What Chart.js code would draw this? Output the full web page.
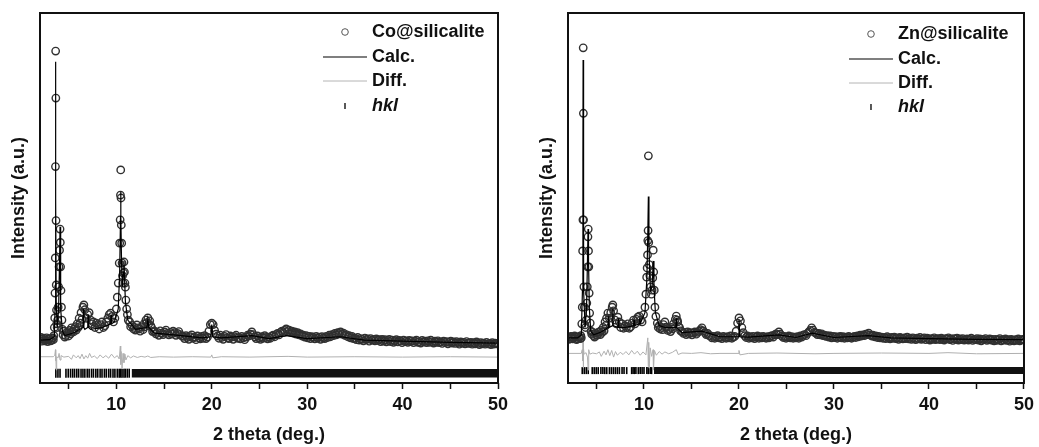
<!DOCTYPE html>
<html>
<head>
<meta charset="utf-8">
<script src="https://cdn.jsdelivr.net/npm/chart.js@4.4.1/dist/chart.umd.min.js"></script>
<style>
  body { margin: 0; background: #fff; }
  canvas { position: absolute; top: 0; }
  #coChart { left: 0; }
  #znChart { left: 520px; }
</style>
</head>
<body>
<canvas id="coChart" width="520" height="447"></canvas>
<canvas id="znChart" width="519" height="447"></canvas>
<script>
// [2theta, intensity] pairs (intensity in arbitrary units, 0..1000 = plot height)
const coObserved = [
  [2.0,118],[2.1,123],[2.2,113],[2.3,119],[2.4,121],[2.5,114],[2.6,116],[2.7,122],[2.8,112],[2.9,118],
  [3.0,120],[3.1,114],[3.2,115],[3.3,121],[3.35,122],[3.4,117],[3.45,128],[3.50,150],
  [3.54,176],[3.57,243],[3.60,338],[3.62,585],[3.64,897],[3.66,770],[3.68,439],[3.70,265],[3.73,197],[3.76,160],
  [3.80,150],[3.85,170],[3.90,205],[3.95,260],[4.00,314],[4.05,359],[4.10,416],[4.13,380],[4.16,314],[4.20,250],
  [4.25,205],[4.30,170],[4.36,145],[4.42,130],[4.5,140],[4.6,124],[4.7,128],[4.8,137],[4.9,135],[5.0,127],[5.1,142],
  [5.2,133],[5.3,149],[5.4,140],[5.5,138],[5.6,146],
  [5.7,152],[5.8,143],[5.9,160],[6.0,150],[6.1,175],[6.2,162],[6.3,190],[6.4,172],[6.5,205],[6.6,211],[6.7,198],[6.85,175],[7.0,185],[7.15,190],
  [7.3,170],[7.45,160],[7.6,165],[7.75,150],[7.9,162],[8.05,158],[8.2,146],[8.35,158],[8.5,165],[8.65,150],
  [8.8,155],[8.95,165],[9.1,175],[9.25,185],[9.4,189],[9.55,180],[9.7,165],[9.85,175],[10.0,200],[10.10,232],
  [10.20,270],[10.30,324],[10.35,378],[10.40,441],[10.43,508],[10.46,576],[10.49,500],[10.52,427],[10.56,378],[10.60,324],
  [10.65,290],[10.70,270],[10.75,297],[10.80,327],[10.85,300],[10.90,270],[10.95,259],[11.00,224],[11.08,200],[11.16,185],
  [11.25,170],[11.4,165],[11.5,152],[11.65,156],[11.8,146],[11.9,150],[12.0,143],[12.15,157],[12.3,149],[12.4,146],[12.5,140],
  [12.65,152],[12.8,144],[12.9,160],[13.0,152],[13.1,170],[13.2,163],[13.3,176],[13.4,160],
  [13.5,168],[13.6,155],[13.7,150],[13.8,139],[13.95,140]
];
// 14..50 deg scanned at 0.15 deg
const coTailStart = 14.0;
const coTailStep = 0.15;
const coTail = [
  140,133,137,129,141,135,131,138,143,134,130,137,132,140,136,129,134,139,131,127,
  126,120,128,123,118,125,130,121,124,117,127,122,119,126,121,128,120,124,140,158,
  162,158,142,132,127,121,129,123,118,126,131,122,120,127,124,118,125,129,121,123,
  119,126,122,117,124,129,127,132,138,131,125,120,127,122,118,125,121,128,123,119,
  124,121,127,129,125,131,134,130,137,140,136,142,146,139,143,137,140,135,138,132,
  136,130,133,127,129,124,128,122,126,120,125,123,119,126,121,124,118,125,122,120,
  126,123,129,125,131,128,134,130,136,133,138,132,135,129,131,125,128,122,126,120,
  121,117,123,116,120,118,114,121,117,119,113,120,116,118,114,119,115,117,112,118,
  113,117,111,115,118,112,116,110,114,117,111,115,113,109,116,112,114,110,115,112,
  114,109,113,116,110,112,108,115,111,113,109,114,110,116,112,108,113,110,114,109,
  111,107,113,109,112,106,110,113,108,111,107,112,109,105,111,108,110,106,112,108,
  107,110,105,109,106,111,107,104,109,106,108,105,110,106,107,104,109,105,108,106,
  107
];
const coCalc = [
  [2.0,116],[3.0,117],[3.5,125],[3.58,200],[3.62,500],[3.64,868],[3.66,500],[3.70,220],[3.80,150],[3.95,200],
  [4.05,330],[4.10,422],[4.13,330],[4.20,200],[4.35,140],[4.6,128],[5.5,135],[6.5,150],[6.55,200],[6.6,150],
  [6.7,145],[7.0,150],[7.05,185],[7.1,150],[7.3,145],[8.0,148],[8.5,150],[9.0,155],[9.4,160],[9.45,185],
  [9.5,160],[9.8,165],[10.2,200],[10.35,300],[10.44,450],[10.46,517],[10.48,450],[10.55,320],[10.65,260],[10.75,300],
  [10.80,330],[10.85,290],[10.95,220],[11.2,170],[12.0,145],[13.2,150],[13.3,172],[13.4,150],[14.0,135],[16.0,130],
  [19.0,122],[19.9,125],[20.0,158],[20.1,125],[21.0,122],[24.2,128],[26.0,120],[27.8,128],[30.0,120],[33.5,125],
  [36.0,116],[40.0,113],[45.0,110],[50.0,108]
];
const coDiff = [
  [2.0,71],[3.4,71],[3.55,75],[3.62,90],[3.64,60],[3.66,78],[3.70,35],[3.75,71],[3.9,68],[4.0,80],
  [4.1,62],[4.2,74],[4.5,70],[5.0,72],[5.3,64],[5.5,76],[5.8,68],[6.0,74],[6.2,66],[6.4,78],
  [6.6,65],[6.8,74],[7.0,67],[7.2,80],[7.4,69],[7.7,73],[8.0,66],[8.3,76],[8.6,68],[8.9,74],
  [9.2,67],[9.5,78],[9.8,68],[10.1,74],[10.3,65],[10.42,100],[10.46,50],[10.5,85],[10.6,40],[10.7,80],
  [10.8,55],[10.9,78],[11.0,62],[11.2,74],[11.5,68],[11.8,73],[12.2,69],[12.6,72],[13.0,70],[13.3,73],
  [13.6,69],[14.5,71],[16.0,70],[18.0,71],[19.9,70],[20.0,76],[20.1,68],[21.0,71],[24.0,70],[28.0,72],
  [30.0,70],[35.0,71],[40.0,70],[45.0,71],[50.0,70]
];
const coHkl = [3.66, 3.88, 4.10, 4.72, 4.96, 5.20, 5.42, 5.62, 5.85, 6.05, 6.30, 6.50, 6.70, 6.95, 7.15,
  7.40, 7.60, 7.85, 8.05, 8.30, 8.50, 8.75, 8.95, 9.20, 9.40, 9.65, 9.85, 10.10, 10.30, 10.45, 10.60,
  10.80, 10.95, 11.15, 11.35];
const coHklBand = [11.6, 50];
const coHklLevel = [15, 38];

const znObserved = [
  [2.0,123],[2.1,118],[2.2,120],[2.3,126],[2.4,125],[2.5,119],[2.6,121],[2.7,127],[2.8,124],[2.9,117],
  [3.0,119],[3.1,125],[3.2,123],[3.3,120],[3.35,128],[3.4,122],[3.45,160],[3.50,205],
  [3.54,357],[3.57,441],[3.60,906],[3.62,729],[3.64,441],[3.67,260],[3.72,205],[3.78,157],[3.85,150],[3.92,170],
  [3.98,216],[4.03,260],[4.07,314],[4.10,395],[4.13,416],[4.16,357],[4.19,314],[4.23,243],[4.28,189],[4.34,162],
  [4.42,140],[4.5,132],[4.6,137],[4.7,128],[4.8,124],[4.9,135],[5.0,129],[5.1,130],[5.2,137],[5.3,138],[5.4,131],[5.5,142],[5.6,137],
  [5.7,150],[5.8,141],[5.9,165],[6.0,156],[6.05,175],
  [6.2,189],[6.35,175],[6.5,190],[6.65,205],[6.72,211],[6.8,195],[6.95,170],[7.1,160],[7.25,178],[7.4,165],
  [7.55,150],[7.7,160],[7.85,148],[8.0,155],[8.15,150],[8.3,160],[8.45,148],[8.6,152],[8.75,162],[8.9,170],
  [9.05,160],[9.2,172],[9.35,178],[9.5,181],[9.65,170],[9.8,165],[9.95,185],[10.1,205],[10.2,240],[10.28,286],
  [10.33,311],[10.37,346],[10.40,385],[10.43,412],[10.46,614],[10.50,380],[10.55,320],[10.62,290],[10.7,260],[10.78,240],
  [10.85,251],[10.92,284],[10.97,359],[11.02,300],[11.08,251],[11.15,205],[11.25,180],[11.4,162],[11.5,150],[11.6,155],[11.7,146],[11.85,150],
  [11.95,144],[12.05,158],[12.2,165],[12.3,151],[12.4,150],[12.5,142],[12.65,145],[12.8,139],[12.9,150],[13.0,146],[13.1,160],[13.3,172],[13.4,181],
  [13.5,170],[13.55,165],[13.65,152],[13.75,150],[13.85,141]
];
const znTailStart = 14.0;
const znTailStep = 0.15;
const znTail = [
  139,134,137,131,138,133,136,130,135,138,132,137,140,144,149,141,136,131,134,128,
  127,122,126,121,125,128,122,124,120,126,123,121,125,122,127,121,124,126,140,162,
  176,168,150,136,128,123,127,121,125,122,126,120,124,127,121,125,122,126,123,121,
  125,122,126,128,124,130,133,131,138,132,127,123,126,121,124,127,122,125,121,124,
  122,125,121,127,124,129,131,128,134,138,142,149,143,137,135,131,134,130,133,128,
  129,126,128,124,127,122,126,123,125,121,124,126,122,125,121,124,122,126,123,121,
  124,126,123,127,125,129,127,130,128,132,131,135,130,127,129,125,127,123,126,122,
  124,121,123,120,125,122,119,123,121,124,120,122,118,123,121,119,122,120,124,119,
  121,118,122,120,117,121,119,123,118,120,122,117,121,119,116,120,118,122,117,119,
  120,117,121,118,116,120,119,122,117,119,115,120,118,121,116,119,117,120,116,118,
  119,116,118,121,115,118,117,120,116,119,114,118,117,120,115,117,119,116,118,114,
  118,115,117,120,114,117,116,119,115,117,113,118,116,114,117,115,119,114,116,118,
  117
];
const znCalc = [
  [2.0,122],[3.0,122],[3.4,130],[3.52,250],[3.57,600],[3.59,873],[3.61,860],[3.63,600],[3.68,250],[3.80,150],
  [3.95,200],[4.05,330],[4.11,416],[4.16,330],[4.25,200],[4.4,140],[4.7,130],[5.5,138],[6.2,150],[6.25,180],
  [6.3,150],[6.7,155],[6.72,200],[6.75,155],[7.25,150],[7.3,175],[7.35,150],[8.0,150],[8.9,155],[8.95,170],
  [9.0,155],[9.5,160],[9.55,175],[9.6,160],[10.1,190],[10.3,280],[10.40,400],[10.46,504],[10.52,380],[10.6,290],
  [10.7,250],[10.85,260],[10.97,330],[11.05,260],[11.2,190],[11.6,155],[12.2,150],[13.35,150],[13.4,175],[13.45,150],
  [14.0,136],[16.1,140],[18.0,125],[19.9,125],[20.0,170],[20.1,125],[21.0,124],[24.2,130],[26.0,123],[27.7,135],
  [30.0,123],[33.6,128],[36.0,122],[40.0,120],[45.0,118],[50.0,117]
];
const znDiff = [
  [2.0,80],[3.4,80],[3.5,90],[3.55,60],[3.58,135],[3.61,40],[3.64,95],[3.7,78],[3.9,82],[4.05,70],
  [4.12,35],[4.18,90],[4.3,78],[4.6,81],[5.0,79],[5.3,84],[5.5,72],[5.8,86],[6.0,76],[6.2,90],
  [6.4,74],[6.6,88],[6.8,70],[7.0,85],[7.2,75],[7.5,83],[7.8,77],[8.1,85],[8.4,76],[8.7,88],
  [9.0,78],[9.3,86],[9.6,75],[9.9,84],[10.2,76],[10.4,122],[10.45,45],[10.5,110],[10.55,40],[10.65,95],
  [10.8,72],[10.95,90],[11.0,35],[11.1,88],[11.3,75],[11.6,85],[11.9,78],[12.2,84],[12.6,79],[13.0,83],
  [13.4,90],[13.6,77],[14.0,81],[15.0,80],[16.0,82],[17.0,79],[18.0,80],[19.9,80],[20.0,88],[20.1,76],
  [21.0,80],[24.0,81],[28.0,79],[30.0,80],[35.0,81],[40.0,80],[42.0,82],[45.0,79],[50.0,80]
];
const znHkl = [3.50, 3.71, 3.92, 4.13, 4.55, 4.76, 4.97, 5.18, 5.46, 5.67, 5.87, 6.08, 6.36, 6.57, 6.78,
  6.99, 7.20, 7.41, 7.69, 7.90, 8.18, 8.70, 8.85, 9.00, 9.15, 9.40, 9.60, 9.80, 10.00, 10.30, 10.45,
  10.65, 10.80];
const znHklBand = [11.05, 50];
const znHklLevel = [24, 43];

const xTicks = [10, 20, 30, 40, 50];

const FONT = "'Liberation Sans', Arial, sans-serif";
const toXY = arr => arr.map(p => ({ x: p[0], y: p[1] }));
const scanXY = (start, step, vals) => vals.map((v, i) => ({ x: +(start + i * step).toFixed(2), y: v }));

// box round the plot area
const framePlugin = {
  id: 'frame',
  afterDatasetsDraw(chart) {
    const { ctx, chartArea: a } = chart;
    ctx.save();
    ctx.strokeStyle = '#111';
    ctx.lineWidth = 2;
    ctx.strokeRect(a.left, a.top, a.right - a.left, a.bottom - a.top);
    ctx.restore();
  }
};

// legend drawn inside the plot, top right
const keyPlugin = {
  id: 'key',
  afterDraw(chart, args, opts) {
    const { ctx, chartArea: a } = chart;
    const tx = a.right - 126;
    const rows = opts.rows.map(d => a.top + d);
    ctx.save();
    ctx.fillStyle = '#111';
    ctx.textBaseline = 'middle';
    ctx.font = 'bold 18px ' + FONT;
    ctx.fillText(opts.sample, tx, rows[0]);
    ctx.fillText('Calc.', tx, rows[1]);
    ctx.fillText('Diff.', tx, rows[2]);
    ctx.font = 'italic bold 18px ' + FONT;
    ctx.fillText('hkl', tx, rows[3]);

    ctx.strokeStyle = '#555';
    ctx.lineWidth = 1;
    ctx.beginPath();
    ctx.arc(tx - 27, rows[0], 3.3, 0, Math.PI * 2);
    ctx.stroke();

    ctx.strokeStyle = '#000';
    ctx.lineWidth = 1.2;
    ctx.beginPath();
    ctx.moveTo(tx - 49, rows[1]);
    ctx.lineTo(tx - 5, rows[1]);
    ctx.stroke();

    ctx.strokeStyle = '#b4b4b4';
    ctx.lineWidth = 1;
    ctx.beginPath();
    ctx.moveTo(tx - 49, rows[2]);
    ctx.lineTo(tx - 5, rows[2]);
    ctx.stroke();

    ctx.strokeStyle = '#222';
    ctx.lineWidth = 1.5;
    ctx.beginPath();
    ctx.moveTo(tx - 27, rows[3] - 3);
    ctx.lineTo(tx - 27, rows[3] + 3);
    ctx.stroke();
    ctx.restore();
  }
};

function makeChart(id, d) {
  const ctx = document.getElementById(id).getContext('2d');
  const hklMid = (d.level[0] + d.level[1]) / 2;

  return new Chart(ctx, {
    type: 'scatter',
    data: {
      datasets: [
        {
          type: 'line',
          label: 'Calc.',
          data: toXY(d.calc),
          borderColor: '#000',
          borderWidth: 1.2,
          pointRadius: 0,
          tension: 0
        },
        {
          label: d.sample,
          data: toXY(d.obs).concat(scanXY(d.tailStart, d.tailStep, d.tail)),
          pointStyle: 'circle',
          pointRadius: 3.7,
          borderWidth: 1.4,
          borderColor: '#303030',
          backgroundColor: 'rgba(0,0,0,0)'
        },
        {
          type: 'line',
          label: 'Diff.',
          data: toXY(d.diff),
          borderColor: '#b0b0b0',
          borderWidth: 1,
          pointRadius: 0,
          tension: 0
        },
        {
          label: 'hkl',
          data: d.hkl.map(x => ({ x, y: hklMid })),
          pointStyle: 'line',
          rotation: 90,
          pointRadius: d.tickHalf,
          borderWidth: 1.6,
          borderColor: '#000'
        },
        {
          type: 'line',
          label: 'hkl band',
          data: [{ x: d.band[0], y: d.level[1] }, { x: d.band[1], y: d.level[1] }],
          borderWidth: 0,
          pointRadius: 0,
          backgroundColor: '#111',
          fill: { value: d.level[0] }
        }
      ]
    },
    options: {
      responsive: false,
      animation: false,
      events: [],
      layout: { padding: { top: 13, right: d.rightPad, bottom: 0, left: 0 } },
      scales: {
        x: {
          type: 'linear',
          min: 2,
          max: 50,
          afterFit: s => { s.height = 64; },
          afterBuildTicks: s => { s.ticks = s.ticks.filter(t => t.value % 5 === 0); },
          border: { display: false },
          grid: {
            display: true,
            drawOnChartArea: false,
            drawTicks: true,
            tickLength: 6,
            tickColor: '#111',
            tickWidth: 1.5
          },
          ticks: {
            stepSize: 5,
            includeBounds: false,
            autoSkip: false,
            maxRotation: 0,
            padding: 5,
            color: '#111',
            font: { family: FONT, size: 18, weight: 'bold' },
            callback: v => xTicks.includes(v) ? String(v) : ''
          },
          title: {
            display: true,
            text: '2 theta (deg.)',
            color: '#111',
            font: { family: FONT, size: 18, weight: 'bold' },
            padding: { top: 0, bottom: 1 }
          }
        },
        y: {
          type: 'linear',
          min: 0,
          max: 1000,
          afterFit: s => { s.width = d.axisWidth; },
          border: { display: false },
          grid: { display: false },
          ticks: { display: false },
          title: {
            display: true,
            text: 'Intensity (a.u.)',
            color: '#111',
            font: { family: FONT, size: 18, weight: 'bold' },
            padding: { top: d.titlePad, bottom: 0 }
          }
        }
      },
      plugins: {
        legend: { display: false },
        tooltip: { enabled: false },
        key: { sample: d.sample, rows: d.rows }
      }
    },
    plugins: [framePlugin, keyPlugin]
  });
}

makeChart('coChart', {
  sample: 'Co@silicalite',
  obs: coObserved, tail: coTail, tailStart: coTailStart, tailStep: coTailStep,
  calc: coCalc, diff: coDiff,
  hkl: coHkl, band: coHklBand, level: coHklLevel,
  tickHalf: 4.5, axisWidth: 40, titlePad: 8, rightPad: 22,
  rows: [19, 44, 68, 93]
});

makeChart('znChart', {
  sample: 'Zn@silicalite',
  obs: znObserved, tail: znTail, tailStart: znTailStart, tailStep: znTailStep,
  calc: znCalc, diff: znDiff,
  hkl: znHkl, band: znHklBand, level: znHklLevel,
  tickHalf: 3.5, axisWidth: 48, titlePad: 16, rightPad: 12,
  rows: [21, 46, 70, 94]
});
</script>
</body>
</html>
